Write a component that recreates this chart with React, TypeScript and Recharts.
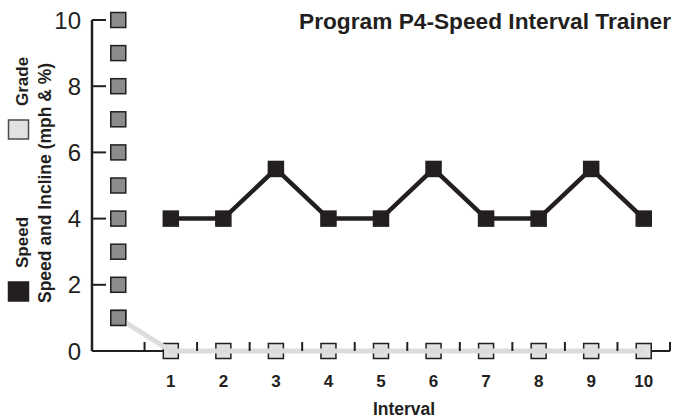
import React from 'react';
import { ComposedChart, Line, Scatter, XAxis, YAxis } from 'recharts';

const intervals = [0, 1, 2, 3, 4, 5, 6, 7, 8, 9, 10];
const speed = [null, 4, 4, 5.5, 4, 4, 5.5, 4, 4, 5.5, 4];
const grade = [1, 0, 0, 0, 0, 0, 0, 0, 0, 0, 0];
// level scale shown as grey squares at the start of the program
const levelMarks = [1, 2, 3, 4, 5, 6, 7, 8, 9, 10];
const yTicks = [0, 2, 4, 6, 8, 10];
const xTicks = [0.5, 1, 1.5, 2, 2.5, 3, 3.5, 4, 4.5, 5, 5.5, 6, 6.5, 7, 7.5, 8, 8.5, 9, 9.5, 10, 10.5];
const legendItems = [
  { name: 'Speed', fill: '#231f20', stroke: '#231f20' },
  { name: 'Grade', fill: '#e1e1e1', stroke: '#4a4a4a' },
];

const FONT = '"Liberation Sans", Arial, Helvetica, sans-serif';
const INK = '#231f20';

const data = intervals.map((interval, i) => ({ interval, speed: speed[i], grade: grade[i] }));
const levelData = levelMarks.map((level) => ({ interval: 0, level }));

const squareDot = (fill: string, stroke: string) => (props: any) => {
  const { cx, cy, index, payload } = props;
  if (cx == null || cy == null || payload == null) return <g key={`d-${index}`} />;
  return (
    <rect key={`d-${index}`} x={cx - 7.5} y={cy - 7.5} width={15} height={15}
      fill={fill} stroke={stroke} strokeWidth={1.5} />
  );
};

const YTick = (props: any) => {
  const { x, y, payload } = props;
  return (
    <g>
      <line x1={x} x2={x + 14} y1={y} y2={y} stroke={INK} strokeWidth={2} />
      <text x={x - 11} y={y} dy="0.36em" textAnchor="end" fontSize={24} fontFamily={FONT} fill={INK}>
        {payload.value}
      </text>
    </g>
  );
};

const XTick = (props: any) => {
  const { x, y, payload } = props;
  if (Number.isInteger(payload.value)) {
    return (
      <text x={x} y={y + 36} textAnchor="middle" fontSize={17} fontWeight="bold" fontFamily={FONT} fill={INK}>
        {payload.value}
      </text>
    );
  }
  return <line x1={x} x2={x} y1={y} y2={y - 9} stroke={INK} strokeWidth={2} />;
};

const LevelSquare = (props: any) => {
  const { cx, cy } = props;
  return <rect x={cx - 7.5} y={cy - 7.5} width={15} height={15} fill="#8c8c8c" stroke={INK} strokeWidth={1.5} />;
};

export default function App() {
  return (
    <div style={{ position: 'absolute', left: 0, top: 0, width: 673, height: 420, background: '#fff' }}>
      <ComposedChart width={673} height={420} data={data}
        margin={{ top: 20, right: 3, bottom: 39, left: 32 }}>
        <XAxis dataKey="interval" type="number" domain={[-0.5, 10.5]} ticks={xTicks} interval={0}
          height={30} tickSize={0} tickMargin={0} tick={<XTick />} tickLine={false}
          axisLine={{ stroke: INK, strokeWidth: 2 }} />
        <YAxis type="number" domain={[0, 10]} ticks={yTicks} interval={0} width={60}
          tickSize={0} tickMargin={0} tick={<YTick />} tickLine={false}
          axisLine={{ stroke: INK, strokeWidth: 2.5 }} />
        <Line type="linear" dataKey="grade" stroke="#dcdcdc" strokeWidth={5} zIndex={600}
          dot={squareDot('#e1e1e1', INK)} activeDot={false} isAnimationActive={false} />
        <Line type="linear" dataKey="speed" stroke={INK} strokeWidth={4.5}
          dot={squareDot(INK, INK)} activeDot={false} isAnimationActive={false} />
        <Scatter data={levelData} dataKey="level" shape={<LevelSquare />} zIndex={700} isAnimationActive={false} />
      </ComposedChart>
      <svg width={673} height={420} style={{ position: 'absolute', left: 0, top: 0, pointerEvents: 'none' }}
        fontFamily={FONT} fill={INK}>
        <text x={671} y={29} textAnchor="end" fontSize={22.7} fontWeight="bold">
          Program P4-Speed Interval Trainer
        </text>
        <text x={404} y={415} textAnchor="middle" fontSize={17.5} fontWeight="bold">Interval</text>
        <text transform="translate(51,303) rotate(-90)" fontSize={17.5} fontWeight="bold">
          Speed and Incline (mph &amp; %)
        </text>
        {legendItems.map((item, i) => {
          const base = 301 - i * 162;
          return (
            <g key={item.name}>
              <rect x={8.5} y={base - 19} width={20} height={19} fill={item.fill} stroke={item.stroke} strokeWidth={1.5} />
              <text transform={`translate(28,${base - 33}) rotate(-90)`} fontSize={17} fontWeight="bold">
                {item.name}
              </text>
            </g>
          );
        })}
      </svg>
    </div>
  );
}
